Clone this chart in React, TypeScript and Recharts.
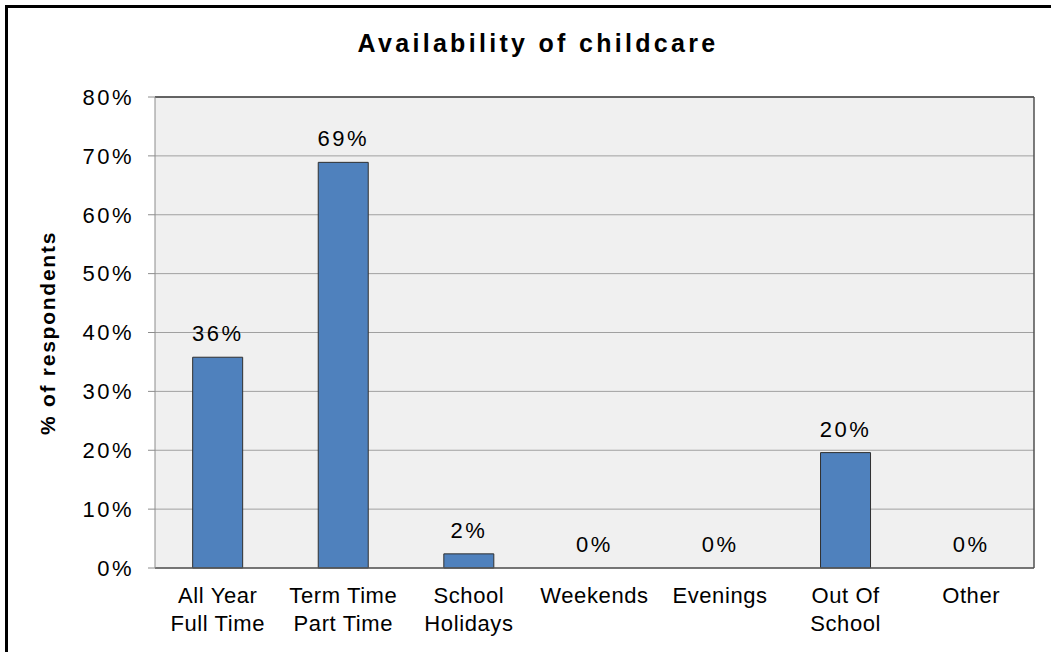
import React from "react";
import {
  Bar,
  CartesianGrid,
  ComposedChart,
  LabelList,
  Line,
  XAxis,
  YAxis,
} from "recharts";

// Availability of childcare — single series column chart, Excel 2003 look.
const categories = [
  "All Year\nFull Time",
  "Term Time\nPart Time",
  "School\nHolidays",
  "Weekends",
  "Evenings",
  "Out Of\nSchool",
  "Other",
];
const percentValues = [35.8, 68.9, 2.4, 0, 0, 19.6, 0];
const yTicks = [0, 10, 20, 30, 40, 50, 60, 70, 80];
const title = "Availability of childcare";
const yLabel = "% of respondents";

const FONT = '"Liberation Sans", Arial, sans-serif';

const chartData = categories.map((c, i) => ({ category: c, value: percentValues[i] }));
// category boundaries 0..n, used only for the small ticks between columns
const edgeTicks = [...categories.map((_, i) => i), categories.length];

const labelStyle = { fill: "#000", fontSize: 22, fontFamily: FONT, letterSpacing: 2.5 };

function CategoryTick({ x, y, payload }: any) {
  const lines = String(payload.value).split("\n");
  return (
    <text
      x={x}
      y={y}
      textAnchor="middle"
      fill="#000"
      style={{ fontFamily: FONT, fontSize: 22, letterSpacing: 0.6 }}
    >
      {lines.map((l, i) => (
        <tspan key={i} x={x} dy={i === 0 ? 15 : 28}>
          {l}
        </tspan>
      ))}
    </text>
  );
}

export default function App() {
  return (
    <div
      style={{
        position: "absolute",
        left: 0,
        top: 0,
        width: 1051,
        height: 652,
        overflow: "hidden",
        background: "#fff",
        fontFamily: FONT,
      }}
    >
      <div
        style={{
          position: "absolute",
          left: 5,
          top: 5,
          width: 1100,
          height: 700,
          borderLeft: "3px solid #000",
          borderTop: "3px solid #000",
        }}
      />
      <div
        style={{
          position: "absolute",
          left: 0,
          top: 31,
          width: 1076,
          textAlign: "center",
          fontSize: 25,
          lineHeight: "25px",
          fontWeight: "bold",
          letterSpacing: 3.3,
          color: "#000",
        }}
      >
        {title}
      </div>
      <div
        style={{
          position: "absolute",
          left: 48 - 150,
          top: 333 - 12,
          width: 300,
          lineHeight: "24px",
          textAlign: "center",
          fontSize: 21,
          fontWeight: "bold",
          letterSpacing: 1.75,
          transform: "rotate(-90deg)",
          color: "#000",
        }}
      >
        {yLabel}
      </div>
      <ComposedChart
        width={1051}
        height={652}
        data={chartData}
        margin={{ top: 96, right: 16, left: 75, bottom: 14 }}
        barCategoryGap="30%"
        style={{ position: "absolute", left: 0, top: 0 }}
      >
        <CartesianGrid
          xAxisId="cat"
          vertical={false}
          stroke="#a0a0a0"
          fill="#f0f0f0"
          fillOpacity={1}
        />
        <XAxis
          xAxisId="top"
          orientation="top"
          type="number"
          domain={[0, 1]}
          allowDataOverflow
          height={1}
          tick={false}
          tickLine={false}
          axisLine={{ stroke: "#404040", strokeWidth: 1.5 }}
        />
        <XAxis
          xAxisId="cat"
          dataKey="category"
          height={69}
          interval={0}
          axisLine={false}
          tickLine={false}
          tickSize={0}
          tickMargin={19}
          tick={<CategoryTick />}
        />
        <XAxis
          xAxisId={0}
          type="number"
          domain={[0, categories.length]}
          ticks={edgeTicks}
          allowDataOverflow
          height={1}
          tick={false}
          tickSize={5}
          tickLine={{ stroke: "#595959" }}
          axisLine={{ stroke: "#595959", strokeWidth: 1.5 }}
        />
        <YAxis
          width={80}
          domain={[0, 80]}
          ticks={yTicks}
          tickFormatter={(v: number) => `${v}%`}
          tickSize={7}
          tickMargin={14}
          tickLine={{ stroke: "#8c8c8c" }}
          axisLine={{ stroke: "#8c8c8c" }}
          tick={{ fill: "#000", fontSize: 22, fontFamily: FONT, letterSpacing: 2.5 }}
        />
        <YAxis
          yAxisId="right"
          orientation="right"
          type="number"
          domain={[0, 1]}
          allowDataOverflow
          width={1}
          tick={false}
          tickLine={false}
          axisLine={{ stroke: "#505050", strokeWidth: 1.5 }}
        />
        <Bar
          xAxisId="cat"
          dataKey="value"
          fill="#4f81bd"
          stroke="#303030"
          strokeWidth={1}
          isAnimationActive={false}
        />
        {/* invisible carrier for the value labels, so 0% columns get one too */}
        <Line
          xAxisId="cat"
          dataKey="value"
          stroke="none"
          dot={false}
          activeDot={false}
          isAnimationActive={false}
        >
          <LabelList
            dataKey="value"
            position="top"
            offset={16}
            formatter={(v: any) => `${Math.round(Number(v))}%`}
            style={labelStyle}
          />
        </Line>
      </ComposedChart>
    </div>
  );
}
